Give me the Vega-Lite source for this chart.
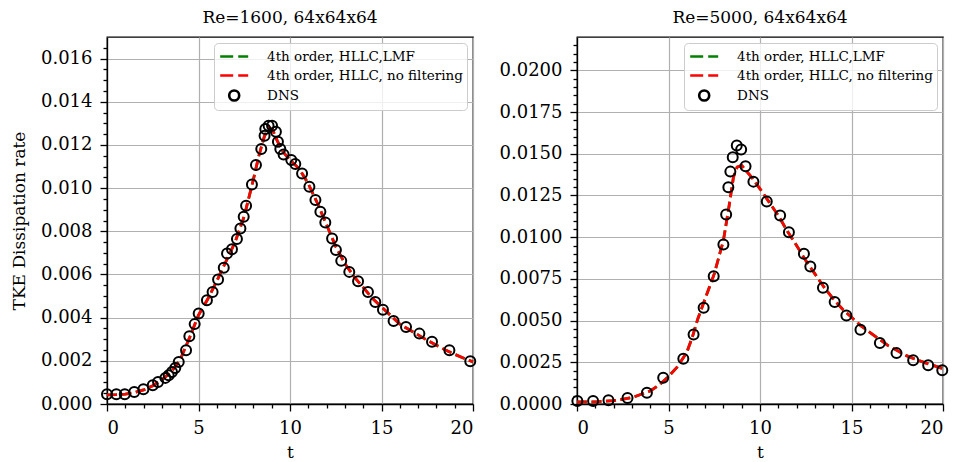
{
  "$schema": "https://vega.github.io/schema/vega-lite/v6.json",
  "padding": {"left": 9, "top": 8, "right": 3, "bottom": 3},
  "background": "white",
  "config": {
    "font": "DejaVu Serif",
    "view": {"stroke": "black", "strokeWidth": 1.3},
    "axis": {"labelFont": "DejaVu Serif", "titleFont": "DejaVu Serif", "labelFontSize": 18, "titleFontSize": 17, "titleFontWeight": "normal", "labelColor": "black", "titleColor": "black", "gridColor": "#b0b0b0", "gridWidth": 1.2, "domainColor": "black", "domainWidth": 1.3, "tickColor": "black", "tickWidth": 1.3, "tickSize": 7, "labelPadding": 8},
    "title": {"font": "DejaVu Serif", "fontSize": 17, "fontWeight": "normal", "frame": "group", "anchor": "middle", "offset": 10, "color": "black"},
    "legend": {"orient": "top-right", "offset": 6, "fillColor": "rgba(255,255,255,0.8)", "strokeColor": "#cccccc", "cornerRadius": 4, "padding": 4, "labelFont": "DejaVu Serif", "labelFontSize": 13.5, "labelColor": "black", "labelLimit": 0, "symbolSize": 256, "symbolStrokeWidth": 2.6, "symbolOffset": 6.7, "rowPadding": 3, "labelOffset": 23.4}
  },
  "datasets": {
    "dns1600": [
      {"t": 0.0, "eps": 0.00045, "series": "DNS"}, {"t": 0.51, "eps": 0.00045, "series": "DNS"}, {"t": 0.97, "eps": 0.00045, "series": "DNS"}, {"t": 1.49, "eps": 0.00056, "series": "DNS"}, {"t": 1.99, "eps": 0.00068, "series": "DNS"}, {"t": 2.5, "eps": 0.00087, "series": "DNS"}, {"t": 2.79, "eps": 0.00102, "series": "DNS"}, {"t": 3.19, "eps": 0.00121, "series": "DNS"}, {"t": 3.37, "eps": 0.00133, "series": "DNS"}, {"t": 3.55, "eps": 0.00148, "series": "DNS"}, {"t": 3.73, "eps": 0.00167, "series": "DNS"}, {"t": 3.92, "eps": 0.00195, "series": "DNS"}, {"t": 4.32, "eps": 0.00249, "series": "DNS"}, {"t": 4.5, "eps": 0.00314, "series": "DNS"}, {"t": 4.79, "eps": 0.0037, "series": "DNS"}, {"t": 5.01, "eps": 0.00419, "series": "DNS"}, {"t": 5.46, "eps": 0.00481, "series": "DNS"}, {"t": 5.77, "eps": 0.00519, "series": "DNS"}, {"t": 6.07, "eps": 0.00577, "series": "DNS"}, {"t": 6.38, "eps": 0.00631, "series": "DNS"}, {"t": 6.56, "eps": 0.00697, "series": "DNS"}, {"t": 6.83, "eps": 0.00717, "series": "DNS"}, {"t": 7.1, "eps": 0.00764, "series": "DNS"}, {"t": 7.29, "eps": 0.00813, "series": "DNS"}, {"t": 7.47, "eps": 0.00867, "series": "DNS"}, {"t": 7.6, "eps": 0.00918, "series": "DNS"}, {"t": 7.92, "eps": 0.01017, "series": "DNS"}, {"t": 8.14, "eps": 0.01107, "series": "DNS"}, {"t": 8.43, "eps": 0.01181, "series": "DNS"}, {"t": 8.61, "eps": 0.01243, "series": "DNS"}, {"t": 8.65, "eps": 0.01274, "series": "DNS"}, {"t": 8.83, "eps": 0.01289, "series": "DNS"}, {"t": 9.02, "eps": 0.01289, "series": "DNS"}, {"t": 9.23, "eps": 0.01261, "series": "DNS"}, {"t": 9.34, "eps": 0.01215, "series": "DNS"}, {"t": 9.47, "eps": 0.01181, "series": "DNS"}, {"t": 9.65, "eps": 0.01156, "series": "DNS"}, {"t": 10.07, "eps": 0.0113, "series": "DNS"}, {"t": 10.29, "eps": 0.01112, "series": "DNS"}, {"t": 10.66, "eps": 0.01068, "series": "DNS"}, {"t": 11.06, "eps": 0.01006, "series": "DNS"}, {"t": 11.39, "eps": 0.00945, "series": "DNS"}, {"t": 11.66, "eps": 0.0089, "series": "DNS"}, {"t": 11.93, "eps": 0.00841, "series": "DNS"}, {"t": 12.3, "eps": 0.00767, "series": "DNS"}, {"t": 12.51, "eps": 0.00713, "series": "DNS"}, {"t": 12.8, "eps": 0.00663, "series": "DNS"}, {"t": 13.24, "eps": 0.00612, "series": "DNS"}, {"t": 13.72, "eps": 0.00569, "series": "DNS"}, {"t": 14.26, "eps": 0.00519, "series": "DNS"}, {"t": 14.66, "eps": 0.00473, "series": "DNS"}, {"t": 15.08, "eps": 0.00437, "series": "DNS"}, {"t": 15.66, "eps": 0.00385, "series": "DNS"}, {"t": 16.34, "eps": 0.00357, "series": "DNS"}, {"t": 17.07, "eps": 0.00326, "series": "DNS"}, {"t": 17.76, "eps": 0.00288, "series": "DNS"}, {"t": 18.71, "eps": 0.00249, "series": "DNS"}, {"t": 19.85, "eps": 0.00198, "series": "DNS"}
    ],
    "line1600": [
      {"t": 0, "eps": 0.00042}, {"t": 0.5, "eps": 0.00043}, {"t": 1, "eps": 0.00046}, {"t": 1.5, "eps": 0.00053}, {"t": 2, "eps": 0.00065}, {"t": 2.5, "eps": 0.00085}, {"t": 3, "eps": 0.00112}, {"t": 3.5, "eps": 0.00148}, {"t": 4, "eps": 0.00205}, {"t": 4.5, "eps": 0.00305}, {"t": 5, "eps": 0.00412}, {"t": 5.5, "eps": 0.00485}, {"t": 6, "eps": 0.0057}, {"t": 6.5, "eps": 0.0066}, {"t": 7, "eps": 0.0075}, {"t": 7.5, "eps": 0.0087}, {"t": 8, "eps": 0.0104}, {"t": 8.3, "eps": 0.0115}, {"t": 8.6, "eps": 0.0124}, {"t": 8.85, "eps": 0.0128}, {"t": 9.05, "eps": 0.0127}, {"t": 9.3, "eps": 0.0122}, {"t": 9.6, "eps": 0.0117}, {"t": 10, "eps": 0.0113}, {"t": 10.5, "eps": 0.0109}, {"t": 11, "eps": 0.0102}, {"t": 11.5, "eps": 0.0093}, {"t": 12, "eps": 0.0083}, {"t": 12.5, "eps": 0.0073}, {"t": 13, "eps": 0.0065}, {"t": 13.5, "eps": 0.0059}, {"t": 14, "eps": 0.0054}, {"t": 14.5, "eps": 0.0049}, {"t": 15, "eps": 0.0045}, {"t": 15.5, "eps": 0.0041}, {"t": 16, "eps": 0.0037}, {"t": 16.5, "eps": 0.00345}, {"t": 17, "eps": 0.0032}, {"t": 17.5, "eps": 0.00295}, {"t": 18, "eps": 0.00272}, {"t": 18.5, "eps": 0.0025}, {"t": 19, "eps": 0.0023}, {"t": 19.5, "eps": 0.00212}, {"t": 20, "eps": 0.00195}
    ],
    "dns5000": [
      {"t": 0.02, "eps": 0.00018, "series": "DNS"}, {"t": 0.88, "eps": 0.00018, "series": "DNS"}, {"t": 1.72, "eps": 0.00022, "series": "DNS"}, {"t": 2.76, "eps": 0.00036, "series": "DNS"}, {"t": 3.82, "eps": 0.00068, "series": "DNS"}, {"t": 4.71, "eps": 0.00158, "series": "DNS"}, {"t": 5.81, "eps": 0.00271, "series": "DNS"}, {"t": 6.37, "eps": 0.00417, "series": "DNS"}, {"t": 6.92, "eps": 0.00577, "series": "DNS"}, {"t": 7.47, "eps": 0.00766, "series": "DNS"}, {"t": 8.0, "eps": 0.00956, "series": "DNS"}, {"t": 8.15, "eps": 0.01136, "series": "DNS"}, {"t": 8.27, "eps": 0.013, "series": "DNS"}, {"t": 8.38, "eps": 0.01393, "series": "DNS"}, {"t": 8.51, "eps": 0.01479, "series": "DNS"}, {"t": 8.73, "eps": 0.01549, "series": "DNS"}, {"t": 8.97, "eps": 0.01525, "series": "DNS"}, {"t": 9.21, "eps": 0.01425, "series": "DNS"}, {"t": 9.64, "eps": 0.01333, "series": "DNS"}, {"t": 10.37, "eps": 0.01214, "series": "DNS"}, {"t": 11.1, "eps": 0.0113, "series": "DNS"}, {"t": 11.58, "eps": 0.0103, "series": "DNS"}, {"t": 12.4, "eps": 0.009, "series": "DNS"}, {"t": 12.75, "eps": 0.00824, "series": "DNS"}, {"t": 13.44, "eps": 0.00697, "series": "DNS"}, {"t": 14.08, "eps": 0.00611, "series": "DNS"}, {"t": 14.72, "eps": 0.00531, "series": "DNS"}, {"t": 15.49, "eps": 0.00445, "series": "DNS"}, {"t": 16.55, "eps": 0.00365, "series": "DNS"}, {"t": 17.46, "eps": 0.00305, "series": "DNS"}, {"t": 18.37, "eps": 0.00262, "series": "DNS"}, {"t": 19.19, "eps": 0.00232, "series": "DNS"}, {"t": 19.96, "eps": 0.00202, "series": "DNS"}
    ],
    "line5000": [
      {"t": 0, "eps": 0.00012}, {"t": 1, "eps": 0.00013}, {"t": 2, "eps": 0.0002}, {"t": 3, "eps": 0.00038}, {"t": 4, "eps": 0.00078}, {"t": 4.5, "eps": 0.00115}, {"t": 5, "eps": 0.00165}, {"t": 5.5, "eps": 0.00225}, {"t": 6, "eps": 0.0031}, {"t": 6.3, "eps": 0.004}, {"t": 6.6, "eps": 0.0051}, {"t": 7, "eps": 0.0063}, {"t": 7.5, "eps": 0.0078}, {"t": 8, "eps": 0.0098}, {"t": 8.3, "eps": 0.0118}, {"t": 8.55, "eps": 0.0136}, {"t": 8.75, "eps": 0.0142}, {"t": 9, "eps": 0.0143}, {"t": 9.5, "eps": 0.01365}, {"t": 10, "eps": 0.0129}, {"t": 10.5, "eps": 0.0121}, {"t": 11, "eps": 0.0113}, {"t": 11.5, "eps": 0.01035}, {"t": 12, "eps": 0.0095}, {"t": 12.5, "eps": 0.0086}, {"t": 13, "eps": 0.0078}, {"t": 13.5, "eps": 0.007}, {"t": 14, "eps": 0.0063}, {"t": 14.5, "eps": 0.0057}, {"t": 15, "eps": 0.0052}, {"t": 15.5, "eps": 0.0047}, {"t": 16, "eps": 0.0043}, {"t": 16.5, "eps": 0.0039}, {"t": 17, "eps": 0.0035}, {"t": 17.5, "eps": 0.0032}, {"t": 18, "eps": 0.0029}, {"t": 18.5, "eps": 0.00268}, {"t": 19, "eps": 0.00248}, {"t": 19.5, "eps": 0.0023}, {"t": 20, "eps": 0.00212}
    ]
  },
  "spacing": 18,
  "resolve": {"scale": {"color": "independent", "shape": "independent"}, "legend": {"color": "independent", "shape": "independent"}},
  "hconcat": [
    {
      "width": 366,
      "height": 367,
      "title": "Re=1600, 64x64x64",
      "resolve": {"axis": {"x": "independent", "y": "independent"}},
      "layer": [
        {
          "data": {"name": "line1600"},
          "mark": {"type": "line", "color": "#008000", "strokeWidth": 2.8, "strokeDash": [10, 4.5]},
          "encoding": {
            "x": {"field": "t", "type": "quantitative", "scale": {"domain": [0, 20], "nice": false}, "axis": {"orient": "bottom", "title": "t", "values": [0, 5, 10, 15, 20], "grid": true, "titlePadding": 7}},
            "y": {"field": "eps", "type": "quantitative", "scale": {"domain": [0, 0.017], "nice": false, "zero": false}, "axis": {"orient": "left", "title": "TKE Dissipation rate", "values": [0, 0.002, 0.004, 0.006, 0.008, 0.01, 0.012, 0.014, 0.016], "format": ".3f", "grid": true, "titlePadding": 12}}
          }
        },
        {
          "data": {"name": "line1600"},
          "mark": {"type": "line", "color": "#ff0000", "strokeWidth": 2.8, "strokeDash": [10, 4.5]},
          "encoding": {
            "x": {"field": "t", "type": "quantitative", "scale": {"domain": [0, 20], "nice": false}, "axis": null},
            "y": {"field": "eps", "type": "quantitative", "scale": {"domain": [0, 0.017], "nice": false, "zero": false}, "axis": null}
          }
        },
        {
          "data": {"name": "dns1600"},
          "mark": {"type": "point", "filled": false, "strokeWidth": 2, "size": 256, "opacity": 1},
          "encoding": {
            "x": {"field": "t", "type": "quantitative", "scale": {"domain": [0, 20], "nice": false}, "axis": null},
            "y": {"field": "eps", "type": "quantitative", "scale": {"domain": [0, 0.017], "nice": false, "zero": false}, "axis": null},
            "color": {"field": "series", "type": "nominal", "scale": {"domain": ["4th order, HLLC,LMF", "4th order, HLLC, no filtering", "DNS"], "range": ["#008000", "#ff0000", "#000000"]}, "legend": {"title": null}},
            "shape": {"field": "series", "type": "nominal", "scale": {"domain": ["4th order, HLLC,LMF", "4th order, HLLC, no filtering", "DNS"], "range": ["M-1.75,0H-0.125M0.5,0H1.75", "M-1.75,0H-0.125M0.5,0H1.75", "M0.625,0A0.625,0.625 0 1,1 -0.625,0A0.625,0.625 0 1,1 0.625,0Z"]}, "legend": {"title": null}}
          }
        },
        {
          "data": {"name": "dns1600"},
          "mark": {"type": "point", "opacity": 0},
          "encoding": {
            "x": {"field": "t", "type": "quantitative", "scale": {"domain": [0, 20], "nice": false}, "axis": {"orient": "bottom", "values": [1, 2, 3, 4, 6, 7, 8, 9, 11, 12, 13, 14, 16, 17, 18, 19], "labels": false, "grid": false, "domain": false, "tickSize": 4, "title": null}},
            "y": {"field": "eps", "type": "quantitative", "scale": {"domain": [0, 0.017], "nice": false, "zero": false}, "axis": {"orient": "left", "values": [0.0005, 0.001, 0.0015, 0.0025, 0.003, 0.0035, 0.0045, 0.005, 0.0055, 0.0065, 0.007, 0.0075, 0.0085, 0.009, 0.0095, 0.0105, 0.011, 0.0115, 0.0125, 0.013, 0.0135, 0.0145, 0.015, 0.0155, 0.0165], "labels": false, "grid": false, "domain": false, "tickSize": 4, "title": null}}
          }
        }
      ]
    },
    {
      "width": 366,
      "height": 367,
      "title": "Re=5000, 64x64x64",
      "resolve": {"axis": {"x": "independent", "y": "independent"}},
      "layer": [
        {
          "data": {"name": "line5000"},
          "mark": {"type": "line", "color": "#008000", "strokeWidth": 2.8, "strokeDash": [10, 4.5]},
          "encoding": {
            "x": {"field": "t", "type": "quantitative", "scale": {"domain": [0, 20], "nice": false}, "axis": {"orient": "bottom", "title": "t", "values": [0, 5, 10, 15, 20], "grid": true, "titlePadding": 7}},
            "y": {"field": "eps", "type": "quantitative", "scale": {"domain": [0, 0.022], "nice": false, "zero": false}, "axis": {"orient": "left", "title": null, "values": [0, 0.0025, 0.005, 0.0075, 0.01, 0.0125, 0.015, 0.0175, 0.02], "format": ".4f", "grid": true}}
          }
        },
        {
          "data": {"name": "line5000"},
          "mark": {"type": "line", "color": "#ff0000", "strokeWidth": 2.8, "strokeDash": [10, 4.5]},
          "encoding": {
            "x": {"field": "t", "type": "quantitative", "scale": {"domain": [0, 20], "nice": false}, "axis": null},
            "y": {"field": "eps", "type": "quantitative", "scale": {"domain": [0, 0.022], "nice": false, "zero": false}, "axis": null}
          }
        },
        {
          "data": {"name": "dns5000"},
          "mark": {"type": "point", "filled": false, "strokeWidth": 2, "size": 256, "opacity": 1},
          "encoding": {
            "x": {"field": "t", "type": "quantitative", "scale": {"domain": [0, 20], "nice": false}, "axis": null},
            "y": {"field": "eps", "type": "quantitative", "scale": {"domain": [0, 0.022], "nice": false, "zero": false}, "axis": null},
            "color": {"field": "series", "type": "nominal", "scale": {"domain": ["4th order, HLLC,LMF", "4th order, HLLC, no filtering", "DNS"], "range": ["#008000", "#ff0000", "#000000"]}, "legend": {"title": null}},
            "shape": {"field": "series", "type": "nominal", "scale": {"domain": ["4th order, HLLC,LMF", "4th order, HLLC, no filtering", "DNS"], "range": ["M-1.75,0H-0.125M0.5,0H1.75", "M-1.75,0H-0.125M0.5,0H1.75", "M0.625,0A0.625,0.625 0 1,1 -0.625,0A0.625,0.625 0 1,1 0.625,0Z"]}, "legend": {"title": null}}
          }
        },
        {
          "data": {"name": "dns5000"},
          "mark": {"type": "point", "opacity": 0},
          "encoding": {
            "x": {"field": "t", "type": "quantitative", "scale": {"domain": [0, 20], "nice": false}, "axis": {"orient": "bottom", "values": [1, 2, 3, 4, 6, 7, 8, 9, 11, 12, 13, 14, 16, 17, 18, 19], "labels": false, "grid": false, "domain": false, "tickSize": 4, "title": null}},
            "y": {"field": "eps", "type": "quantitative", "scale": {"domain": [0, 0.022], "nice": false, "zero": false}, "axis": {"orient": "left", "values": [0.0005, 0.001, 0.0015, 0.002, 0.003, 0.0035, 0.004, 0.0045, 0.0055, 0.006, 0.0065, 0.007, 0.008, 0.0085, 0.009, 0.0095, 0.0105, 0.011, 0.0115, 0.012, 0.013, 0.0135, 0.014, 0.0145, 0.0155, 0.016, 0.0165, 0.017, 0.018, 0.0185, 0.019, 0.0195, 0.0205, 0.021, 0.0215], "labels": false, "grid": false, "domain": false, "tickSize": 4, "title": null}}
          }
        }
      ]
    }
  ]
}
